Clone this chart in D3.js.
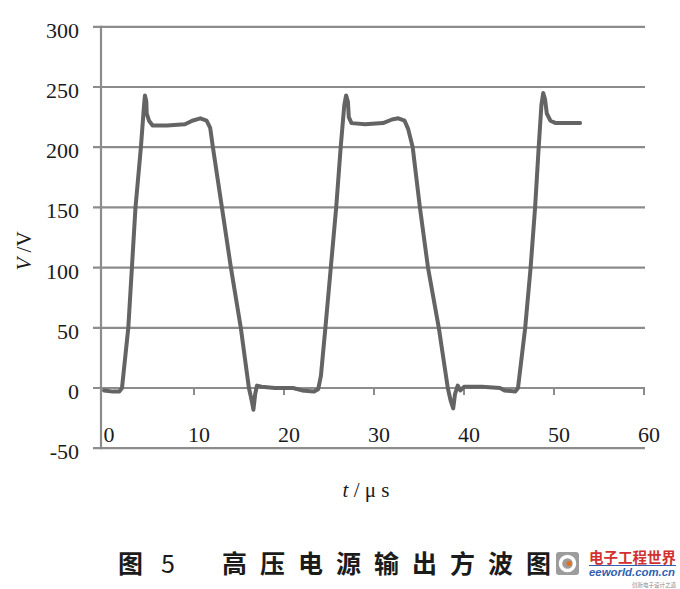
<!DOCTYPE html>
<html>
<head>
<meta charset="utf-8">
<script src="https://cdn.jsdelivr.net/npm/d3@7"></script>
<style>
  html, body { margin: 0; padding: 0; background: #ffffff; }
  svg { display: block; }
</style>
</head>
<body>
<svg id="chart" width="680" height="589"></svg>
<script>
// ---- data ----
const timeUs = [0, 1.0, 1.7, 2.0, 2.7, 3.1, 3.5, 4.1, 4.45, 4.55, 4.7, 4.75, 5.0, 5.4, 7.0, 9.0, 9.8, 10.7, 11.4, 11.8, 12.1, 13.1, 14.1, 15.2, 16.1, 16.4, 16.6, 16.8, 17.0, 17.5, 19.0, 21.0, 22.0, 23.3, 23.8, 24.1, 24.6, 25.2, 25.8, 26.3, 26.7, 26.9, 27.1, 27.2, 27.5, 29.0, 31.0, 32.0, 32.7, 33.4, 33.8, 34.3, 35.1, 36.0, 37.2, 38.2, 38.5, 38.8, 39.0, 39.3, 39.6, 40.0, 42.0, 44.0, 44.5, 45.7, 46.0, 46.8, 47.4, 47.9, 48.3, 48.6, 48.8, 49.0, 49.2, 49.6, 50.2, 52.9];
const voltageV = [-2, -3, -3, 0, 50, 100, 150, 200, 235, 243, 238, 228, 222, 218, 218, 219, 222, 224, 222, 216, 200, 150, 100, 50, 0, -10, -18, -5, 2, 1, 0, 0, -2, -3, -1, 10, 50, 100, 150, 200, 235, 243, 238, 225, 220, 219, 220, 223, 224, 222, 215, 200, 150, 100, 50, 0, -10, -17, -5, 2, -2, 1, 1, 0, -2, -3, 0, 50, 100, 150, 200, 235, 245, 240, 228, 222, 220, 220];
const yTicks = [-50, 0, 50, 100, 150, 200, 250, 300];
const xTicks = [0, 10, 20, 30, 40, 50, 60];
const yTitle = "V /V";
const xTitle = "/ μ s";
const captionA = "图";
const captionB = "5";
const captionC = "高压电源输出方波图";

// ---- scales ----
const svg = d3.select("#chart");
const x = d3.scaleLinear().domain([0, 60]).range([104, 644]);
const y = d3.scaleLinear().domain([-50, 300]).range([448.2, 26.8]);

const gridColor = "#8c8c8c";
const textColor = "#1b1b1b";

// horizontal gridlines
svg.append("g").selectAll("line").data(yTicks).join("line")
  .attr("x1", 93).attr("x2", 645)
  .attr("y1", d => y(d)).attr("y2", d => y(d))
  .attr("stroke", gridColor).attr("stroke-width", 2.2);

// left axis line
svg.append("line")
  .attr("x1", 101).attr("x2", 101)
  .attr("y1", y(300) - 1).attr("y2", y(-50) + 1)
  .attr("stroke", gridColor).attr("stroke-width", 2.2);

// small ticks below the zero line
svg.append("g").selectAll("line").data(xTicks.filter(d => d > 0)).join("line")
  .attr("x1", d => x(d)).attr("x2", d => x(d))
  .attr("y1", y(0)).attr("y2", y(0) + 7)
  .attr("stroke", gridColor).attr("stroke-width", 2);

// y tick labels
svg.append("g").selectAll("text").data(yTicks).join("text")
  .attr("x", 79).attr("y", d => y(d) + 11)
  .attr("text-anchor", "end")
  .attr("font-family", "Liberation Serif, serif")
  .attr("font-size", 22)
  .attr("fill", textColor)
  .text(d => d);

// x tick labels (placed just under the zero line)
svg.append("g").selectAll("text").data(xTicks).join("text")
  .attr("x", d => x(d) + 5).attr("y", 442)
  .attr("text-anchor", "middle")
  .attr("font-family", "Liberation Serif, serif")
  .attr("font-size", 22)
  .attr("fill", textColor)
  .text(d => d);

// waveform
const pts = timeUs.map((t, i) => [t, voltageV[i]]);
const line = d3.line().x(d => x(d[0])).y(d => y(d[1])).curve(d3.curveLinear);
svg.append("path")
  .attr("d", line(pts))
  .attr("fill", "none")
  .attr("stroke", "#646464")
  .attr("stroke-width", 4)
  .attr("stroke-linejoin", "round")
  .attr("stroke-linecap", "round");

// y axis title
const yt = svg.append("text")
  .attr("transform", "translate(31,251) rotate(-90)")
  .attr("text-anchor", "middle")
  .attr("font-family", "Liberation Serif, serif")
  .attr("font-size", 21)
  .attr("fill", textColor);
yt.append("tspan").attr("font-style", "italic").text(yTitle.split(" ")[0]);
yt.append("tspan").text(" " + yTitle.split(" ")[1]);

// x axis title
const xt = svg.append("text")
  .attr("x", 366).attr("y", 497)
  .attr("text-anchor", "middle")
  .attr("font-family", "Liberation Serif, serif")
  .attr("font-size", 21)
  .attr("fill", textColor);
xt.append("tspan").attr("font-style", "italic").text("t");
xt.append("tspan").text(" " + xTitle);

// caption
const capFont = "Noto Sans CJK SC, sans-serif";
svg.append("text").attr("x", 118).attr("y", 573)
  .attr("font-family", capFont).attr("font-weight", 700).attr("font-size", 25)
  .attr("fill", textColor).text(captionA);
svg.append("text").attr("x", 161).attr("y", 573)
  .attr("font-family", capFont).attr("font-weight", 400).attr("font-size", 25)
  .attr("fill", textColor).text(captionB);
svg.append("text").attr("x", 222).attr("y", 573)
  .attr("font-family", capFont).attr("font-weight", 700).attr("font-size", 25)
  .attr("letter-spacing", 13)
  .attr("fill", textColor).text(captionC);

// watermark logo
const logo = svg.append("g");
logo.append("rect").attr("x", 556).attr("y", 552).attr("width", 23).attr("height", 23)
  .attr("rx", 3).attr("fill", "#9c9c9c");
logo.append("circle").attr("cx", 567.5).attr("cy", 563.5).attr("r", 7)
  .attr("fill", "none").attr("stroke", "#ffffff").attr("stroke-width", 3.5);
logo.append("circle").attr("cx", 569).attr("cy", 563.5).attr("r", 2.5).attr("fill", "#e07020");
logo.append("text").attr("x", 589).attr("y", 563)
  .attr("font-family", capFont).attr("font-weight", 700).attr("font-size", 14.5)
  .attr("fill", "#d23030").text("电子工程世界");
logo.append("line").attr("x1", 589).attr("x2", 676).attr("y1", 565.5).attr("y2", 565.5)
  .attr("stroke", "#3060b0").attr("stroke-width", 1);
logo.append("text").attr("x", 589).attr("y", 576)
  .attr("font-family", "Liberation Sans, sans-serif").attr("font-weight", 700)
  .attr("font-style", "italic").attr("font-size", 11.5)
  .attr("textLength", 86).attr("lengthAdjust", "spacingAndGlyphs")
  .attr("fill", "#2f5fb3").text("eeworld.com.cn");
logo.append("text").attr("x", 676).attr("y", 587)
  .attr("text-anchor", "end")
  .attr("font-family", capFont).attr("font-size", 5.5)
  .attr("fill", "#888888").text("创新电子设计之道");
</script>
</body>
</html>
